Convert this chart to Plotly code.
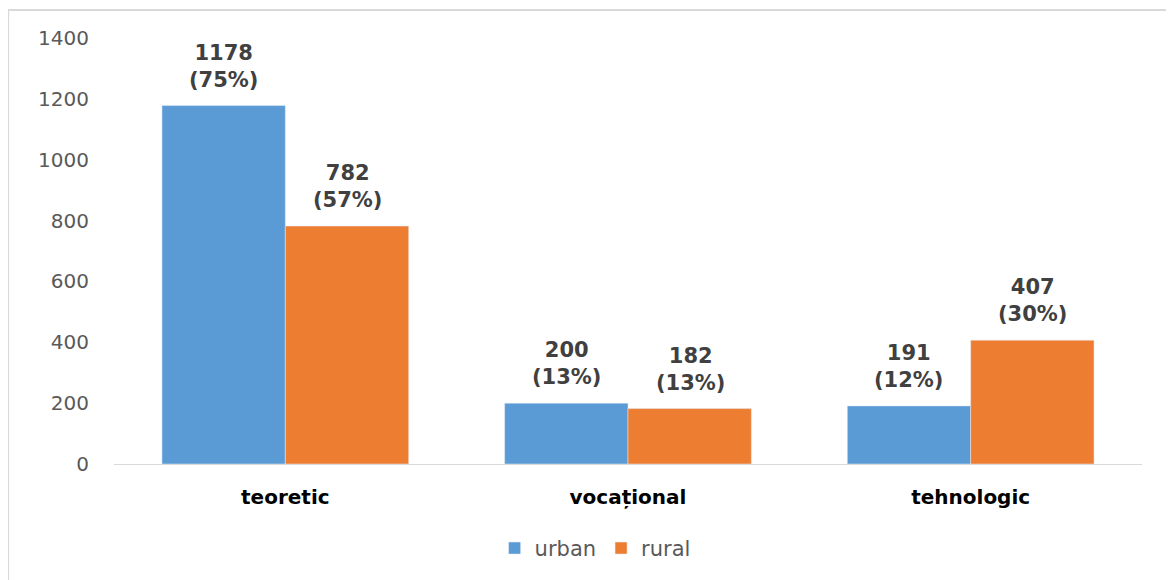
import plotly.graph_objects as go

categories = ["teoretic", "vocațional", "tehnologic"]
urban = [1178, 200, 191]
rural = [782, 182, 407]
urban_pct = ["75%", "13%", "12%"]
rural_pct = ["57%", "13%", "30%"]
tick_vals = [0, 200, 400, 600, 800, 1000, 1200, 1400]

FONT = "DejaVu Sans, sans-serif"

fig = go.Figure()
fig.add_trace(go.Bar(name="urban", x=categories, y=urban, marker_color="#5b9bd5"))
fig.add_trace(go.Bar(name="rural", x=categories, y=rural, marker_color="#ed7d31"))

# value labels above each bar (half a bar width left/right of the category centre)
label_font = dict(size=21, color="#404040", family=FONT, weight="bold")
for vals, pcts, shift in [(urban, urban_pct, -62), (rural, rural_pct, 62)]:
    for cat, v, p in zip(categories, vals, pcts):
        fig.add_annotation(x=cat, y=v, text=f"{v}<br>({p})", showarrow=False,
                           xshift=shift, yshift=12, yanchor="bottom",
                           font=label_font)

# page body has an 8px margin, so margins are shifted to compensate
fig.update_layout(
    width=1174, height=580,
    paper_bgcolor="#ffffff", plot_bgcolor="#ffffff",
    barmode="group", bargap=0.28, bargroupgap=0,
    margin=dict(l=106, r=40, t=30, b=124),
    font=dict(family=FONT, size=16, color="#595959"),
    legend=dict(orientation="h", x=0.468, xanchor="center", y=-0.15, yanchor="top",
                font=dict(size=21, color="#595959", family=FONT), itemwidth=30),
    showlegend=True,
    shapes=[dict(type="rect", xref="paper", yref="paper",
                 x0=-0.103, x1=1.2, y0=-0.5, y1=1.066,
                 line=dict(color="#d9d9d9", width=2), layer="below")],
)
fig.update_xaxes(showline=True, linecolor="#d9d9d9", linewidth=1, ticks="",
                 ticklabelstandoff=15,
                 tickfont=dict(size=20, color="#000000", family=FONT, weight="bold"))
fig.update_yaxes(range=[0, 1400], tickvals=tick_vals, showgrid=False, zeroline=False,
                 showline=False, ticklabelstandoff=24,
                 tickfont=dict(size=20, color="#595959", family=FONT))

fig.write_html("out.html")
